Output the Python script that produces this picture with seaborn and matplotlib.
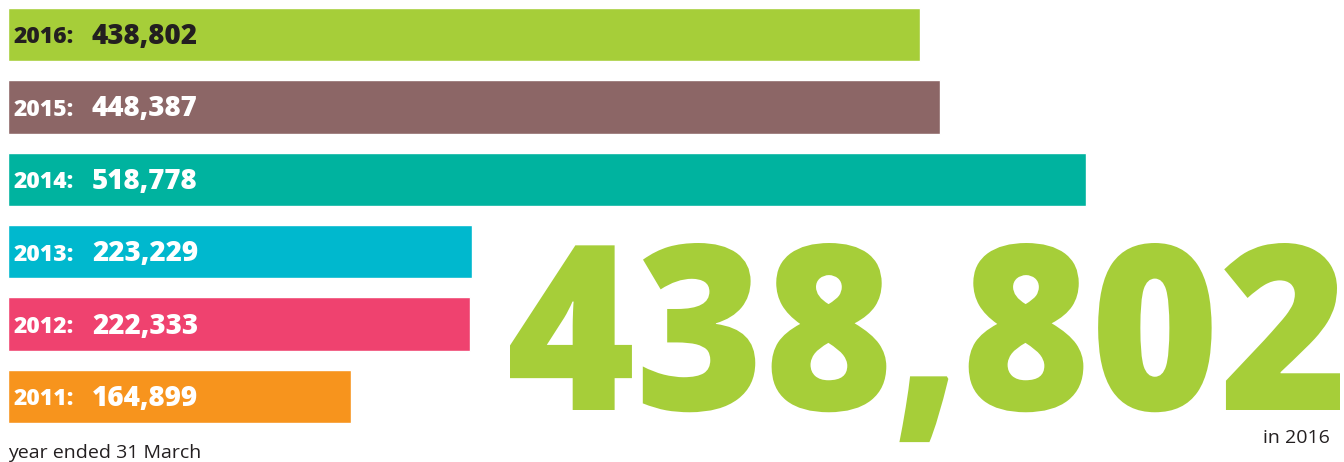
import matplotlib
matplotlib.use("Agg")
import matplotlib.pyplot as plt
import seaborn as sns
from matplotlib.textpath import TextPath
from matplotlib.font_manager import FontProperties
from matplotlib.patches import PathPatch
from matplotlib.transforms import Affine2D

# data
years = ["2016", "2015", "2014", "2013", "2012", "2011"]
values = [438802, 448387, 518778, 223229, 222333, 164899]
colors = ["#A6CE39", "#8C6666", "#00B39F", "#00B8CE", "#EF426F", "#F7941D"]
label_colors = ["#231F20", "white", "white", "white", "white", "white"]
headline = "438,802"
headline_note = "in 2016"
footnote = "year ended 31 March"

sns.set_theme(style="white")
plt.rcParams["font.family"] = ["Open Sans", "DejaVu Sans"]

W, H = 1344, 462
fig = plt.figure(figsize=(W / 100, H / 100), dpi=100)
ax = fig.add_axes([8 / W, 0, (W - 8) / W, 1])

sns.barplot(x=values, y=years, hue=years, palette=colors, legend=False,
            orient="h", width=0.74, saturation=1, ax=ax)

ax.set_xlim(0, 518778 * (W - 8) / 1078)
ax.set_ylim(5.905, -0.4765)
ax.axis("off")

# labels inside bars
for i, (yr, v) in enumerate(zip(years, values)):
    c = label_colors[i]
    ax.annotate(f"{yr}:", xy=(0, i), xytext=(6, -9), textcoords="offset pixels",
                ha="left", va="baseline", fontsize=16.5, fontweight="heavy", color=c)
    ax.annotate(f"{v:,}", xy=(0, i), xytext=(84, -9.5), textcoords="offset pixels",
                ha="left", va="baseline", fontsize=20, fontweight="heavy", color=c)

# big headline number, condensed to fit its box (pixels)
fp = FontProperties(family="Open Sans", weight="heavy")
tp = TextPath((0, 0), headline, size=100, prop=fp)
ext = tp.get_extents()
sx = 830 / ext.width
sy = 167 / ext.y1
fit = Affine2D().translate(-ext.x0, 0).scale(sx, sy).translate(510, H - 410)
big = PathPatch(fit.transform_path(tp), facecolor=colors[0], lw=0,
                transform=Affine2D().scale(1 / 100) + fig.dpi_scale_trans)
fig.add_artist(big)

fig.text(1330 / W, 1 - 443 / H, headline_note, ha="right", va="baseline",
         fontsize=14, color="#231F20")
fig.text(8 / W, 1 - 458 / H, footnote, ha="left", va="baseline",
         fontsize=14, color="#231F20")

fig.savefig("out.png", dpi=100)
